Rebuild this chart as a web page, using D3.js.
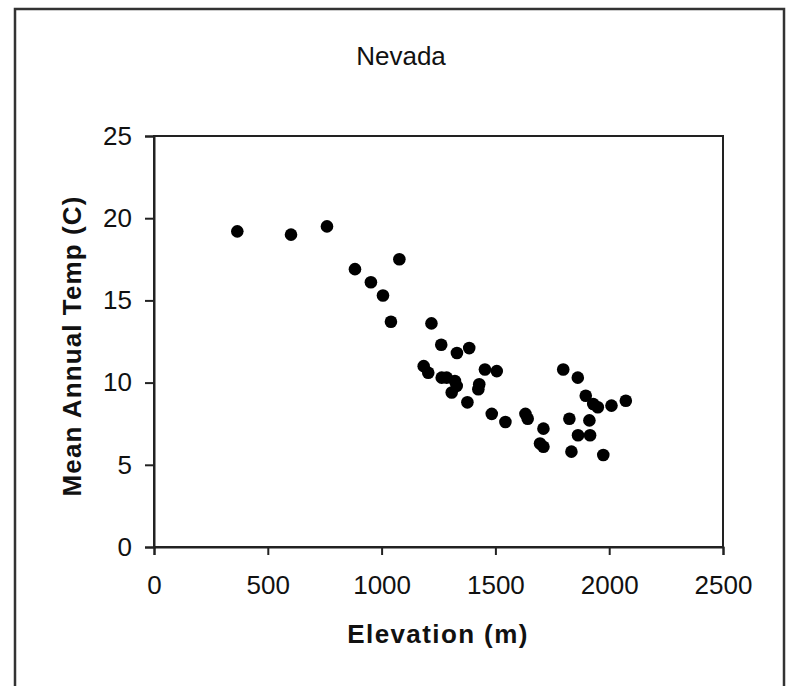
<!DOCTYPE html>
<html lang="en">
<head>
    <meta charset="UTF-8">
    <script src="https://d3js.org/d3.v7.min.js"></script>
    <title>Nevada</title>
    <style>
        body { margin: 0; background: white; }
        svg { display: block; }
        text { font-family: "Liberation Sans", Arial, sans-serif; fill: #111; }
    </style>
</head>
<body>
    <script>
        // data: elevation (m) and mean annual temp (C)
        const elevation = [366, 602, 760, 883, 953, 1006, 1041, 1078, 1219, 1262,
            1331, 1385, 1185, 1205, 1264, 1286, 1322, 1330, 1308, 1454,
            1506, 1429, 1425, 1377, 1484, 1544, 1632, 1642, 1711, 1696,
            1711, 1798, 1862, 1897, 1930, 1950, 2010, 2073, 1825, 1913,
            1863, 1916, 1834, 1974]
        const temperature = [19.2, 19.0, 19.5, 16.9, 16.1, 15.3, 13.7, 17.5, 13.6, 12.3,
            11.8, 12.1, 11.0, 10.6, 10.3, 10.3, 10.1, 9.8, 9.4, 10.8,
            10.7, 9.9, 9.6, 8.8, 8.1, 7.6, 8.1, 7.8, 7.2, 6.3,
            6.1, 10.8, 10.3, 9.2, 8.7, 8.5, 8.6, 8.9, 7.8, 7.7,
            6.8, 6.8, 5.8, 5.6]
        const xTicks = [0, 500, 1000, 1500, 2000, 2500]
        const yTicks = [0, 5, 10, 15, 20, 25]

        const width = 789, height = 686
        const plot = { left: 154, top: 136, right: 723, bottom: 547 }

        const svg = d3.select("body").append("svg")
            .attr("width", width)
            .attr("height", height)

        // outer chart frame (bottom edge is cut off in the picture)
        svg.append("rect")
            .attr("x", 15).attr("y", 9)
            .attr("width", 769).attr("height", 700)
            .attr("fill", "none")
            .attr("stroke", "#333")
            .attr("stroke-width", 2.5)

        const x = d3.scaleLinear().domain([0, 2500]).range([plot.left, plot.right])
        const y = d3.scaleLinear().domain([0, 25]).range([plot.bottom, plot.top])

        // plot area border
        svg.append("rect")
            .attr("x", plot.left).attr("y", plot.top)
            .attr("width", plot.right - plot.left)
            .attr("height", plot.bottom - plot.top)
            .attr("fill", "none")
            .attr("stroke", "#222")
            .attr("stroke-width", 2)

        /*---------------- axes ----------------*/
        const xAxis = svg.append("g")
            .attr("transform", `translate(0,${plot.bottom})`)
            .call(d3.axisBottom(x).tickValues(xTicks).tickFormat(d3.format("d"))
                .tickSizeOuter(0).tickSize(8).tickPadding(21))
        const yAxis = svg.append("g")
            .attr("transform", `translate(${plot.left},0)`)
            .call(d3.axisLeft(y).tickValues(yTicks).tickFormat(d3.format("d"))
                .tickSizeOuter(0).tickSize(9).tickPadding(13))

        for (const g of [xAxis, yAxis]) {
            g.select(".domain").attr("stroke", "#222").attr("stroke-width", 2)
            g.selectAll(".tick line").attr("stroke", "#222").attr("stroke-width", 2)
            g.selectAll(".tick text")
                .attr("fill", "#222")
                .style("font-size", "26px")
                .style("font-family", "'Liberation Sans', Arial, sans-serif")
        }

        /*---------------- points ----------------*/
        svg.append("g").selectAll("circle")
            .data(elevation.map((e, i) => [e, temperature[i]]))
            .join("circle")
            .attr("cx", d => x(d[0]))
            .attr("cy", d => y(d[1]))
            .attr("r", 6.3)
            .attr("fill", "black")

        /*---------------- titles ----------------*/
        svg.append("text")
            .attr("x", 401).attr("y", 65)
            .attr("text-anchor", "middle")
            .style("font-size", "26px")
            .text("Nevada")

        svg.append("text")
            .attr("x", 438).attr("y", 643)
            .attr("text-anchor", "middle")
            .style("font-size", "26px")
            .style("font-weight", "bold")
            .style("letter-spacing", "1.4px")
            .text("Elevation (m)")

        svg.append("text")
            .attr("transform", "translate(81,346) rotate(-90)")
            .attr("text-anchor", "middle")
            .style("font-size", "26px")
            .style("font-weight", "bold")
            .style("letter-spacing", "1.1px")
            .text("Mean Annual Temp (C)")
    </script>
</body>
</html>
